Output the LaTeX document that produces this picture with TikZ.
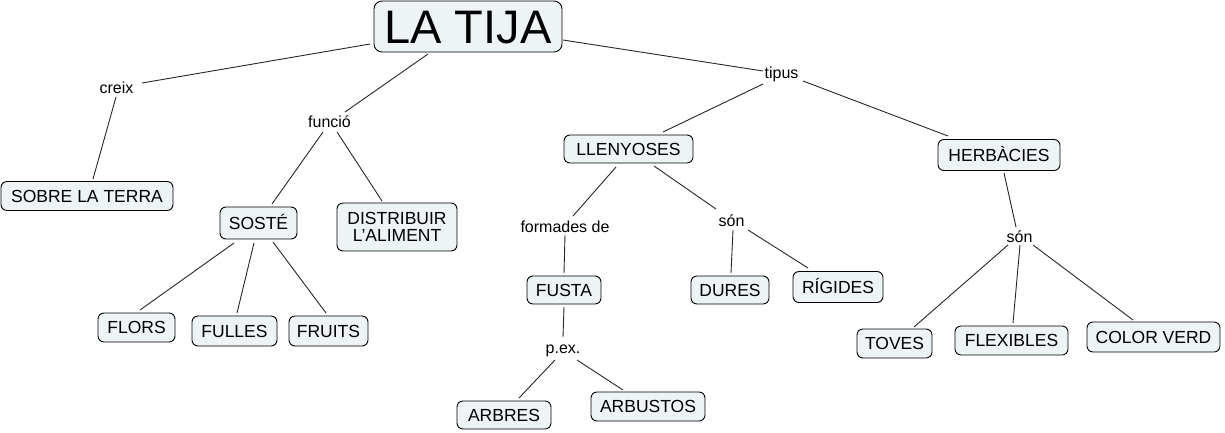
\documentclass[tikz,border=0pt]{standalone}
\usepackage{fontspec}
\setmainfont{Liberation Sans}
\definecolor{boxfill}{RGB}{238,243,246}
\newcommand{\lnk}[6]{\draw[conn] ([shift={(#2,#3)}]#1.center) -- ([shift={(#5,#6)}]#4.center);}
\begin{document}
\begin{tikzpicture}[x=1pt,y=-1pt,
  concept/.style={draw=black, line width=0.9pt, fill=boxfill, rounded corners=6pt,
    inner sep=0pt, font=\fontsize{17.5}{18}\selectfont, text height=12.6pt, text depth=0pt},
  concepttwo/.style={draw=black, line width=0.9pt, fill=boxfill, rounded corners=6pt,
    inner sep=0pt, font=\fontsize{17.5}{17.7}\selectfont, align=center},
  lbl/.style={inner sep=0pt, font=\fontsize{16}{18}\selectfont, text height=11.5pt, text depth=0pt},
  conn/.style={line width=0.9pt, black!85}]
\useasboundingbox (0,0) rectangle (1225,432);

% concepts
\node[concept, minimum width=188pt, minimum height=51pt, rounded corners=8pt,
  font=\fontsize{47}{50}\selectfont, text height=34pt] (title) at (468,26.5) {LA TIJA};
\node[concept, minimum width=172pt, minimum height=29pt] (sobre) at (87,196) {SOBRE LA TERRA};
\node[concept, minimum width=77pt, minimum height=32pt] (soste) at (258.5,223) {SOSTÉ};
\node[concepttwo, minimum width=120pt, minimum height=48pt] (distr) at (397,227) {DISTRIBUIR\\L'ALIMENT};
\node[concept, minimum width=77pt, minimum height=29pt] (flors) at (136.5,327.5) {FLORS};
\node[concept, minimum width=85pt, minimum height=30pt] (fulles) at (234.5,331) {FULLES};
\node[concept, minimum width=79pt, minimum height=30pt] (fruits) at (328.5,331) {FRUITS};
\node[concept, minimum width=129pt, minimum height=28pt] (llen) at (628.5,149) {LLENYOSES\hspace{5pt}};
\node[concept, minimum width=74pt, minimum height=28pt] (fusta) at (564,290) {FUSTA};
\node[concept, minimum width=94pt, minimum height=28pt] (arbres) at (504,415) {ARBRES\hspace{6pt}};
\node[concept, minimum width=114pt, minimum height=29pt] (arbustos) at (648,406.5) {ARBUSTOS};
\node[concept, minimum width=78pt, minimum height=28pt] (dures) at (730,290) {DURES};
\node[concept, minimum width=90pt, minimum height=31pt] (rigides) at (838,287) {RÍGIDES};
\node[concept, minimum width=122pt, minimum height=31pt] (herb) at (999,155) {HERBÀCIES};
\node[concept, minimum width=75pt, minimum height=29pt] (toves) at (894.5,343.5) {TOVES};
\node[concept, minimum width=113pt, minimum height=29pt] (flex) at (1011.5,340.5) {FLEXIBLES};
\node[concept, minimum width=133pt, minimum height=30pt] (cverd) at (1153.5,337) {COLOR VERD};

% linking phrases
\node[lbl] (creix) at (116.5,88) {creix};
\node[lbl] (funcio) at (329.5,122) {funció};
\node[lbl] (tipus) at (781.5,73) {tipus};
\node[lbl] (formades) at (565,227) {formades de};
\node[lbl] (sonA) at (731.5,221) {són};
\node[lbl] (pex) at (563,348) {p.ex.};
\node[lbl] (sonB) at (1019.5,237) {són};

% connectors
\lnk{title}{-98}{17.5}{creix}{25.5}{-5}
\lnk{creix}{-0.5}{9}{sobre}{6}{-17}
\lnk{title}{-40}{27.5}{funcio}{15.5}{-10}
\lnk{funcio}{-6.5}{10}{soste}{13.5}{-19}
\lnk{funcio}{7.5}{10}{distr}{-15}{-26}
\lnk{soste}{-24.5}{20}{flors}{3.5}{-17.5}
\lnk{soste}{-4.5}{20}{fulles}{2.5}{-18}
\lnk{soste}{14.5}{19}{fruits}{-2.5}{-18}
\lnk{title}{95}{13.5}{tipus}{-18.5}{-2}
\lnk{tipus}{-18.5}{11}{llen}{34.5}{-17}
\lnk{tipus}{21.5}{8}{herb}{-51}{-19}
\lnk{llen}{-12.5}{18}{formades}{8}{-11}
\lnk{formades}{0}{8}{fusta}{0}{-17}
\lnk{llen}{25.5}{17}{sonA}{-15.5}{-12}
\lnk{sonA}{1.5}{9}{dures}{1}{-17}
\lnk{sonA}{16.5}{9}{rigides}{-30}{-19}
\lnk{fusta}{0}{17}{pex}{0}{-11}
\lnk{pex}{-8}{12}{arbres}{15}{-17}
\lnk{pex}{14}{12}{arbustos}{-25}{-16.5}
\lnk{herb}{5}{18}{sonB}{-3.5}{-10}
\lnk{sonB}{-11.5}{8}{toves}{19.5}{-16.5}
\lnk{sonB}{0.5}{8}{flex}{1.5}{-17.5}
\lnk{sonB}{13.5}{8}{cverd}{-20.5}{-17}
\end{tikzpicture}
\end{document}
